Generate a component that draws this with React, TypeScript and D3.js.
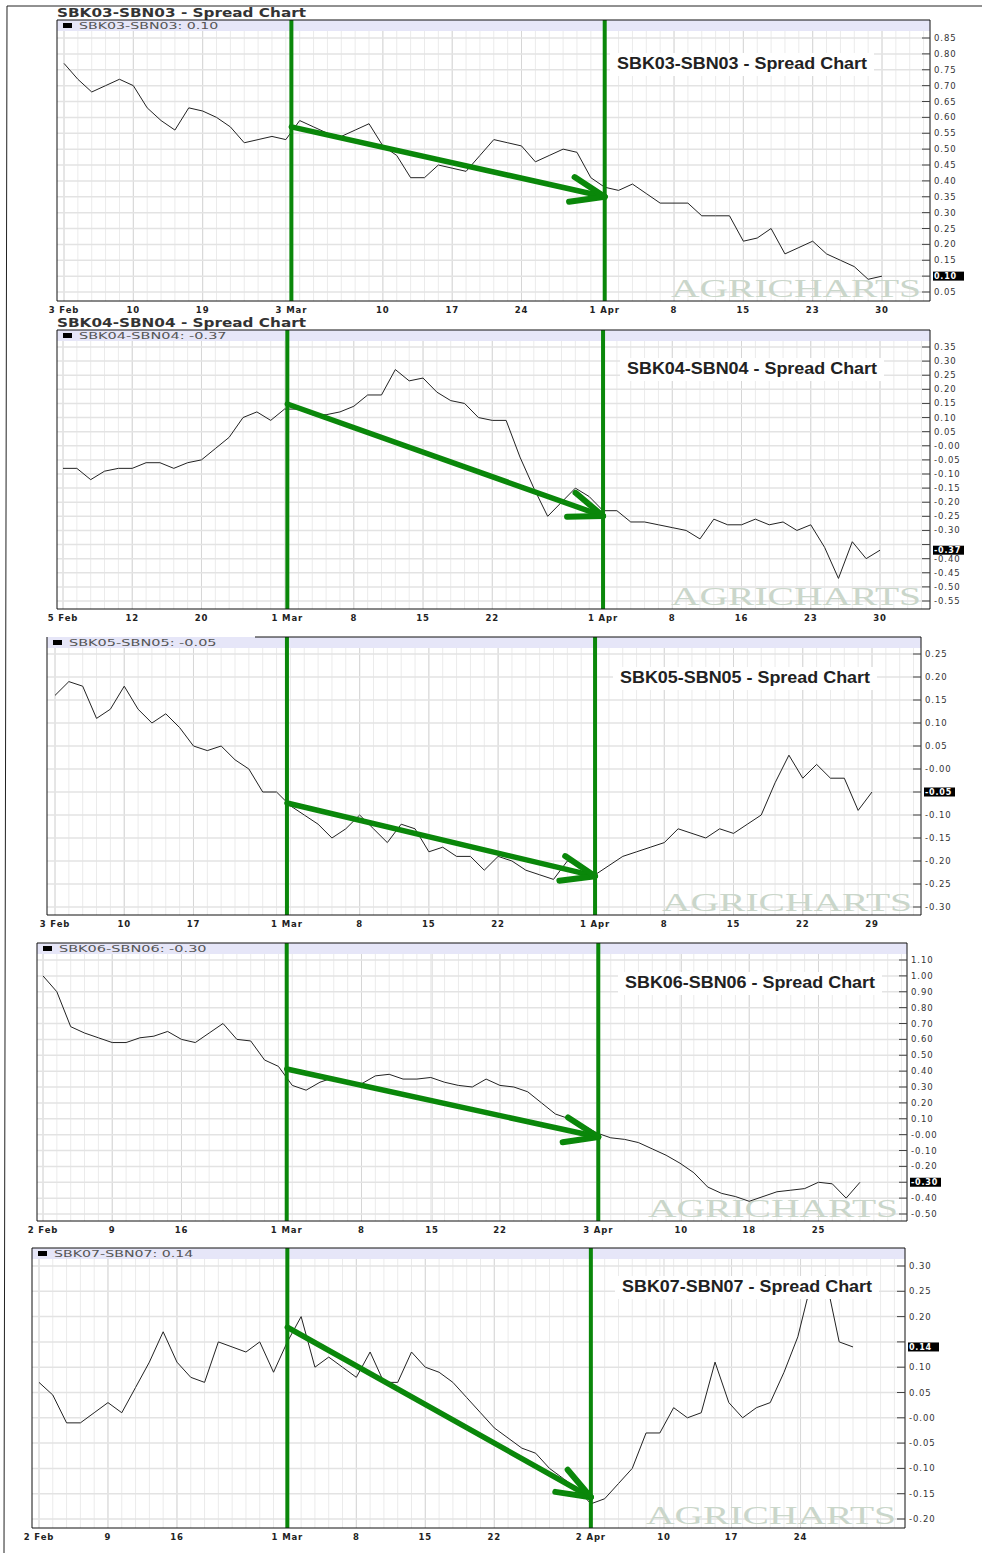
import React from "react";
import * as d3 from "d3";

// ---------- Panel 1: SBK03-SBN03 ----------
const p1Values = [0.77, 0.72, 0.68, 0.70, 0.72, 0.70, 0.63, 0.59, 0.56, 0.63, 0.62, 0.60, 0.57, 0.52, 0.53, 0.54, 0.53, 0.59, 0.57, 0.55,
  0.54, 0.56, 0.58, 0.51, 0.48, 0.41, 0.41, 0.45, 0.44, 0.43, 0.48, 0.53, 0.52, 0.51, 0.46, 0.48, 0.50, 0.49, 0.41, 0.38,
  0.37, 0.39, 0.36, 0.33, 0.33, 0.33, 0.29, 0.29, 0.29, 0.21, 0.22, 0.25, 0.17, 0.19, 0.21, 0.17, 0.15, 0.13, 0.09, 0.10];
const p1XLabels = ["3 Feb", "10", "19", "3 Mar", "10", "17", "24", "1 Apr", "8", "15", "23", "30"];
const p1XAt = [0, 5, 10, 16.4, 23, 28, 33, 39, 44, 49, 54, 59];
const p1YTicks = [0.85, 0.80, 0.75, 0.70, 0.65, 0.60, 0.55, 0.50, 0.45, 0.40, 0.35, 0.30, 0.25, 0.20, 0.15, 0.10, 0.05];
const p1Marks = [16.4, 39];
const p1Arrow = [0.57, 0.35];

// ---------- Panel 2: SBK04-SBN04 ----------
const p2Values = [-0.08, -0.08, -0.12, -0.09, -0.08, -0.08, -0.06, -0.06, -0.08, -0.06, -0.05, -0.01, 0.03, 0.10, 0.12, 0.09, 0.13, 0.13, 0.11, 0.11,
  0.12, 0.14, 0.18, 0.18, 0.27, 0.23, 0.24, 0.19, 0.16, 0.15, 0.10, 0.09, 0.09, -0.04, -0.15, -0.25, -0.20, -0.15, -0.18, -0.23,
  -0.23, -0.27, -0.27, -0.28, -0.29, -0.30, -0.33, -0.26, -0.28, -0.28, -0.26, -0.28, -0.27, -0.30, -0.28, -0.36, -0.47, -0.34, -0.40, -0.37];
const p2XLabels = ["5 Feb", "12", "20", "1 Mar", "8", "15", "22", "1 Apr", "8", "16", "23", "30"];
const p2XAt = [0, 5, 10, 16.2, 21, 26, 31, 39, 44, 49, 54, 59];
const p2YTicks = [0.35, 0.30, 0.25, 0.20, 0.15, 0.10, 0.05, 0, -0.05, -0.10, -0.15, -0.20, -0.25, -0.30, -0.35, -0.40, -0.45, -0.50, -0.55];
const p2Marks = [16.2, 39];
const p2Arrow = [0.148, -0.249];

// ---------- Panel 3: SBK05-SBN05 ----------
const p3Values = [0.16, 0.19, 0.18, 0.11, 0.13, 0.18, 0.13, 0.10, 0.12, 0.09, 0.05, 0.04, 0.05, 0.02, 0.00, -0.05, -0.05, -0.08, -0.10, -0.12,
  -0.15, -0.13, -0.10, -0.13, -0.16, -0.12, -0.13, -0.18, -0.17, -0.19, -0.19, -0.22, -0.19, -0.20, -0.22, -0.23, -0.24, -0.20, -0.21, -0.23,
  -0.21, -0.19, -0.18, -0.17, -0.16, -0.13, -0.14, -0.15, -0.13, -0.14, -0.12, -0.10, -0.03, 0.03, -0.02, 0.01, -0.02, -0.02, -0.09, -0.05];
const p3XLabels = ["3 Feb", "10", "17", "1 Mar", "8", "15", "22", "1 Apr", "8", "15", "22", "29"];
const p3XAt = [0, 5, 10, 16.75, 22, 27, 32, 39, 44, 49, 54, 59];
const p3YTicks = [0.25, 0.20, 0.15, 0.10, 0.05, 0, -0.05, -0.10, -0.15, -0.20, -0.25, -0.30];
const p3Marks = [16.75, 39];
const p3Arrow = [-0.074, -0.233];

// ---------- Panel 4: SBK06-SBN06 ----------
const p4Values = [1.00, 0.90, 0.68, 0.64, 0.61, 0.58, 0.58, 0.61, 0.62, 0.65, 0.60, 0.58, 0.64, 0.70, 0.60, 0.59, 0.47, 0.43, 0.31, 0.28,
  0.33, 0.36, 0.32, 0.32, 0.37, 0.38, 0.35, 0.35, 0.36, 0.33, 0.31, 0.30, 0.35, 0.31, 0.30, 0.27, 0.20, 0.13, 0.10, 0.06,
  0.01, -0.02, -0.03, -0.05, -0.09, -0.13, -0.18, -0.24, -0.33, -0.37, -0.39, -0.42, -0.39, -0.36, -0.35, -0.34, -0.30, -0.31, -0.40, -0.30];
const p4XLabels = ["2 Feb", "9", "16", "1 Mar", "8", "15", "22", "3 Apr", "10", "18", "25"];
const p4XAt = [0, 5, 10, 17.6, 23, 28.1, 33, 40.1, 46.1, 51, 56];
const p4YTicks = [1.10, 1.00, 0.90, 0.80, 0.70, 0.60, 0.50, 0.40, 0.30, 0.20, 0.10, 0, -0.10, -0.20, -0.30, -0.40, -0.50];
const p4Marks = [17.6, 40.1];
const p4Arrow = [0.413, -0.015];

// ---------- Panel 5: SBK07-SBN07 ----------
const p5Values = [0.07, 0.045, -0.01, -0.01, 0.01, 0.03, 0.01, 0.06, 0.11, 0.17, 0.11, 0.08, 0.07, 0.15, 0.14, 0.13, 0.15, 0.09, 0.15, 0.20,
  0.10, 0.12, 0.10, 0.08, 0.13, 0.07, 0.07, 0.13, 0.10, 0.09, 0.07, 0.04, 0.01, -0.02, -0.04, -0.06, -0.07, -0.10, -0.12, -0.14,
  -0.17, -0.16, -0.13, -0.10, -0.03, -0.03, 0.02, 0.00, 0.01, 0.11, 0.03, 0.00, 0.02, 0.03, 0.09, 0.16, 0.27, 0.28, 0.15, 0.14];
const p5XLabels = ["2 Feb", "9", "16", "1 Mar", "8", "15", "22", "2 Apr", "10", "17", "24"];
const p5XAt = [0, 5, 10, 18, 23, 28, 33, 40, 45.3, 50.2, 55.2];
const p5YTicks = [0.30, 0.25, 0.20, 0.15, 0.10, 0.05, 0, -0.05, -0.10, -0.15, -0.20];
const p5Marks = [18, 40];
const p5Arrow = [0.179, -0.157];

type Cfg = {
  name: string;
  values: number[];
  xLabels: string[];
  xAt: number[];
  yTicks: number[];
  marks: number[];
  arrow: number[];
  box: { left: number; top: number; right: number; bottom: number };
  xRange: [number, number];
  yRange: [number, number];
  topTitleY?: number;
  titleX: number;
  titleY: number;
  frameTopFrom?: number;
};

const panels: Cfg[] = [
  { name: "SBK03-SBN03", values: p1Values, xLabels: p1XLabels, xAt: p1XAt, yTicks: p1YTicks, marks: p1Marks, arrow: p1Arrow,
    box: { left: 57, top: 20, right: 930, bottom: 301 }, xRange: [64, 882], yRange: [292, 38], topTitleY: 17, titleX: 742, titleY: 69 },
  { name: "SBK04-SBN04", values: p2Values, xLabels: p2XLabels, xAt: p2XAt, yTicks: p2YTicks, marks: p2Marks, arrow: p2Arrow,
    box: { left: 57, top: 330, right: 930, bottom: 609 }, xRange: [63, 880], yRange: [601, 347], topTitleY: 327, titleX: 752, titleY: 374 },
  { name: "SBK05-SBN05", values: p3Values, xLabels: p3XLabels, xAt: p3XAt, yTicks: p3YTicks, marks: p3Marks, arrow: p3Arrow,
    box: { left: 47, top: 637, right: 921, bottom: 915 }, xRange: [55, 872], yRange: [907, 654], titleX: 745, titleY: 683, frameTopFrom: 255 },
  { name: "SBK06-SBN06", values: p4Values, xLabels: p4XLabels, xAt: p4XAt, yTicks: p4YTicks, marks: p4Marks, arrow: p4Arrow,
    box: { left: 37, top: 943, right: 907, bottom: 1221 }, xRange: [43, 860], yRange: [1214, 960], titleX: 750, titleY: 988 },
  { name: "SBK07-SBN07", values: p5Values, xLabels: p5XLabels, xAt: p5XAt, yTicks: p5YTicks, marks: p5Marks, arrow: p5Arrow,
    box: { left: 32, top: 1248, right: 905, bottom: 1528 }, xRange: [39, 853], yRange: [1519, 1266], titleX: 747, titleY: 1292 },
];

const GREEN = "#0a870a";
const fmt = (v: number) => (v <= 0 ? "-" + Math.abs(v).toFixed(2) : v.toFixed(2));

function Panel({ cfg }: { cfg: Cfg }) {
  const { box } = cfg;
  const n = cfg.values.length;
  const x = d3.scaleLinear().domain([0, n - 1]).range(cfg.xRange);
  const ext = d3.extent(cfg.yTicks) as [number, number];
  const y = d3.scaleLinear().domain(ext).range(cfg.yRange);
  const line = d3.line<number>().x((_, i) => x(i)).y((d) => y(d));
  const iStart = Math.ceil(x.invert(box.left + 1));
  const iEnd = Math.floor(x.invert(box.right - 1));
  const gridIdx = d3.range(iStart, iEnd + 1);
  const last = cfg.values[n - 1];
  const lastY = y(last);
  const bandH = 11;

  const ax1 = x(cfg.marks[0]);
  const ay1 = y(cfg.arrow[0]);
  const ax2 = x(cfg.marks[1]);
  const ay2 = y(cfg.arrow[1]);
  const ang = Math.atan2(ay2 - ay1, ax2 - ax1);
  const L = 36;
  const b1 = [ax2 - L * Math.cos(ang - 0.36), ay2 - L * Math.sin(ang - 0.36)];
  const b2 = [ax2 - L * Math.cos(ang + 0.36), ay2 - L * Math.sin(ang + 0.36)];

  const ft = cfg.frameTopFrom ?? box.left;
  const legendText = cfg.name + ": " + fmt(last);

  return (
    <g>
      {cfg.topTitleY !== undefined && (
        <text x={box.left} y={cfg.topTitleY} fontFamily="DejaVu Sans" fontWeight="bold" fontSize={11.5}
          fill="#333" textLength={249} lengthAdjust="spacingAndGlyphs">{cfg.name + " - Spread Chart"}</text>
      )}
      <rect x={box.left} y={box.top} width={box.right - box.left} height={box.bottom - box.top} fill="#fff" />
      {/* vertical grid */}
      {gridIdx.map((i) => (
        <line key={"v" + i} x1={x(i)} x2={x(i)} y1={box.top} y2={box.bottom} stroke="#ebebeb" strokeWidth={1} />
      ))}
      {cfg.xAt.map((a, i) => (
        <line key={"vt" + i} x1={x(a)} x2={x(a)} y1={box.top} y2={box.bottom} stroke="#d6d6d6" strokeWidth={1} />
      ))}
      {/* horizontal grid */}
      {cfg.yTicks.map((t, i) => (
        <line key={"h" + i} x1={box.left} x2={box.right} y1={y(t)} y2={y(t)} stroke="#e3e3e3" strokeWidth={1.5} />
      ))}
      {/* legend band */}
      <rect x={box.left} y={box.top} width={box.right - box.left} height={bandH} fill="#e6e6f8" />
      <rect x={box.left + 6} y={box.top + 3} width={9} height={5} fill="#000" />
      <text x={box.left + 22} y={box.top + 9} fontFamily="DejaVu Sans" fontSize={9} fill="#555"
        textLength={legendText.length * 8.2} lengthAdjust="spacingAndGlyphs">{legendText}</text>
      {/* watermark */}
      <text x={box.right - 9} y={box.bottom - 4} textAnchor="end" fontFamily="Liberation Serif" fontSize={25}
        fill="#cad6ca" textLength={250} lengthAdjust="spacingAndGlyphs">AGRICHARTS</text>
      {/* series line */}
      <path d={line(cfg.values) ?? ""} fill="none" stroke="#222" strokeWidth={1} />
      {/* title box */}
      <rect x={cfg.titleX - 132} y={cfg.titleY - 16} width={264} height={23} fill="#fff" />
      <text x={cfg.titleX} y={cfg.titleY} textAnchor="middle" fontFamily="Liberation Sans" fontWeight="bold"
        fontSize={16} fill="#222" textLength={250} lengthAdjust="spacingAndGlyphs">{cfg.name + " - Spread Chart"}</text>
      {/* green markers */}
      {cfg.marks.map((m, i) => (
        <line key={"g" + i} x1={x(m)} x2={x(m)} y1={box.top} y2={box.bottom} stroke={GREEN} strokeWidth={4} />
      ))}
      <line x1={ax1} y1={ay1} x2={ax2} y2={ay2} stroke={GREEN} strokeWidth={5.5} strokeLinecap="round" />
      <line x1={ax2} y1={ay2} x2={b1[0]} y2={b1[1]} stroke={GREEN} strokeWidth={6} strokeLinecap="round" />
      <line x1={ax2} y1={ay2} x2={b2[0]} y2={b2[1]} stroke={GREEN} strokeWidth={6} strokeLinecap="round" />
      {/* frame */}
      <path d={`M${ft},${box.top}H${box.right}V${box.bottom}H${box.left}V${box.top}`} fill="none" stroke="#111" strokeWidth={1} />
      {/* y ticks & labels */}
      {cfg.yTicks.map((t, i) => (
        <line key={"yt" + i} x1={box.right - 8} x2={box.right} y1={y(t)} y2={y(t)} stroke="#444" strokeWidth={1} />
      ))}
      {cfg.yTicks.filter((t) => Math.abs(y(t) - lastY) > 7).map((t, i) => (
        <text key={"yl" + i} x={box.right + 4} y={y(t) + 3} fontFamily="DejaVu Sans" fontSize={8.5} letterSpacing={0.9}
          fill="#333">{fmt(t)}</text>
      ))}
      <rect x={box.right + 3} y={lastY - 4.5} width={31} height={9} fill="#000" />
      <text x={box.right + 4} y={lastY + 3} fontFamily="DejaVu Sans" fontWeight="bold" fontSize={8} letterSpacing={0.8}
        fill="#fff">{fmt(last)}</text>
      {/* x labels */}
      {cfg.xLabels.map((lab, i) => (
        <text key={"xl" + i} x={x(cfg.xAt[i])} y={box.bottom + 12} textAnchor="middle" fontFamily="DejaVu Sans"
          fontWeight="bold" fontSize={8.5} letterSpacing={0.9} fill="#222">{lab}</text>
      ))}
    </g>
  );
}

export default function App() {
  return (
    <svg width={982} height={1553} style={{ position: "absolute", left: 0, top: 0, background: "#fff" }}>
      <rect x={0} y={0} width={982} height={1553} fill="#fff" />
      <line x1={7} y1={6} x2={982} y2={6} stroke="#222" strokeWidth={1} />
      <line x1={7} y1={6} x2={4} y2={1553} stroke="#222" strokeWidth={1} />
      {panels.map((p) => (
        <Panel key={p.name} cfg={p} />
      ))}
    </svg>
  );
}
